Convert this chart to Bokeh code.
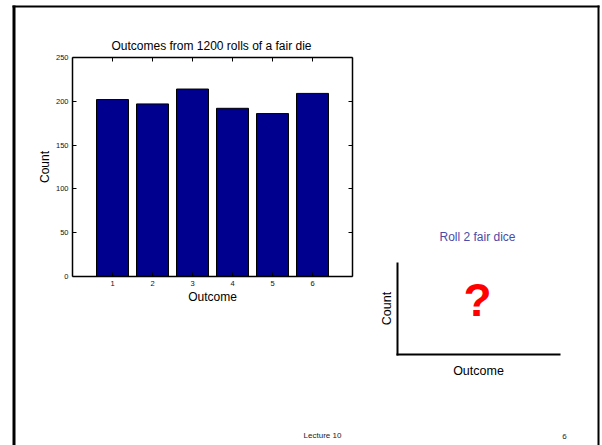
import math
from bokeh.plotting import figure
from bokeh.models import Range1d, LinearAxis, FixedTicker, Label, BoxAnnotation
from bokeh.embed import file_html
from bokeh.resources import INLINE

# ---- data ----
outcomes = [1, 2, 3, 4, 5, 6]
counts = [202, 197, 214, 192, 186, 209]
x_ticks = [1, 2, 3, 4, 5, 6]
y_ticks = [0, 50, 100, 150, 200, 250]
title_text = "Outcomes from 1200 rolls of a fair die"
x_label = "Outcome"
y_label = "Count"
side_title = "Roll 2 fair dice"
side_mark = "?"
footer_text = "Lecture 10"
page_no = "6"

# ---- layout (pixels) ----
W, H = 602, 445
FL, FR, FT, FB = 72, 352, 57, 276          # where the bar chart box sits on the page
XMIN, XMAX, YMIN, YMAX = 0, 7, 0, 250      # bar chart data extent
FONT = "Liberation Sans"

sx = (FR - FL) / (XMAX - XMIN)   # px per x unit
sy = (FB - FT) / (YMAX - YMIN)   # px per y unit
x_range = Range1d(XMIN - FL / sx, XMIN + (W - FL) / sx)
y_range = Range1d(YMIN - (H - FB) / sy, YMIN + FB / sy)

p = figure(width=W, height=H, x_range=x_range, y_range=y_range,
           x_axis_type=None, y_axis_type=None,
           output_backend="svg", toolbar_location=None,
           min_border=0, min_border_left=0, min_border_right=0,
           min_border_top=0, min_border_bottom=0)
p.background_fill_color = "white"
p.border_fill_color = "white"
p.outline_line_color = None

p.vbar(x=outcomes, top=counts, width=0.8, fill_color="#00008F", line_color="black", line_width=1)

def make_axis(side, ticks, loc, bounds, show_labels):
    ax = LinearAxis(ticker=FixedTicker(ticks=ticks), fixed_location=loc, bounds=bounds)
    ax.major_tick_in = 4
    ax.major_tick_out = 0
    ax.minor_tick_line_color = None
    ax.axis_line_color = "black"
    ax.axis_line_width = 1.5
    ax.major_tick_line_color = "black"
    ax.major_label_text_font = FONT
    ax.major_label_text_color = "#111111"
    if show_labels:
        ax.major_label_text_font_size = "7.5px"
        ax.major_label_standoff = 4
    else:
        ax.major_label_text_alpha = 0
        ax.major_label_text_font_size = "1px"
    ax.axis_label_text_font = FONT
    ax.axis_label_text_font_size = "12px"
    ax.axis_label_text_font_style = "normal"
    ax.axis_label_text_color = "black"
    p.add_layout(ax, side)
    return ax

xb = make_axis("below", x_ticks, YMIN, (XMIN, XMAX), True)
yl = make_axis("left", y_ticks, XMIN, (YMIN, YMAX), True)
make_axis("above", x_ticks, YMAX, (XMIN, XMAX), False)
make_axis("right", y_ticks, XMAX, (YMIN, YMAX), False)
xb.axis_label = x_label
xb.axis_label_standoff = 1
yl.axis_label = y_label
yl.axis_label_standoff = 1

# ---- page decorations, placed by pixel position ----
def dx(px):
    return XMIN + (px - FL) / sx

def dy(py):
    return YMIN + (FB - py) / sy

def rect(x0, y0, x1, y1):
    p.add_layout(BoxAnnotation(left=dx(x0), right=dx(x1), top=dy(y0), bottom=dy(y1),
                               fill_color="black", fill_alpha=1.0, line_color=None))

rect(12, 5, 15, 446)      # slide frame left
rect(12, 5, 599, 7)       # slide frame top
rect(597, 5, 599, 446)    # slide frame right
rect(396, 262, 398, 355)  # sketch y axis
rect(396, 353, 560, 355)  # sketch x axis

def label(px, py, text, size, color="black", style="normal", angle=0.0):
    p.add_layout(Label(x=dx(px), y=dy(py), text=text, text_font=FONT, text_font_size=size,
                       text_color=color, text_font_style=style, angle=angle,
                       text_align="center", text_baseline="middle"))

label(211, 45, title_text, "12px")
label(477, 236, side_title, "12px", color="#4b4ba8")
label(477, 299, side_mark, "46px", color="#ff0000", style="bold")
label(386, 308, y_label, "12.5px", angle=math.pi / 2)
label(478, 370, x_label, "12.5px")
label(322, 435, footer_text, "8px", color="#222222")
label(564, 436, page_no, "8px", color="#222222")

open("out.html", "w").write(file_html(p, INLINE))
